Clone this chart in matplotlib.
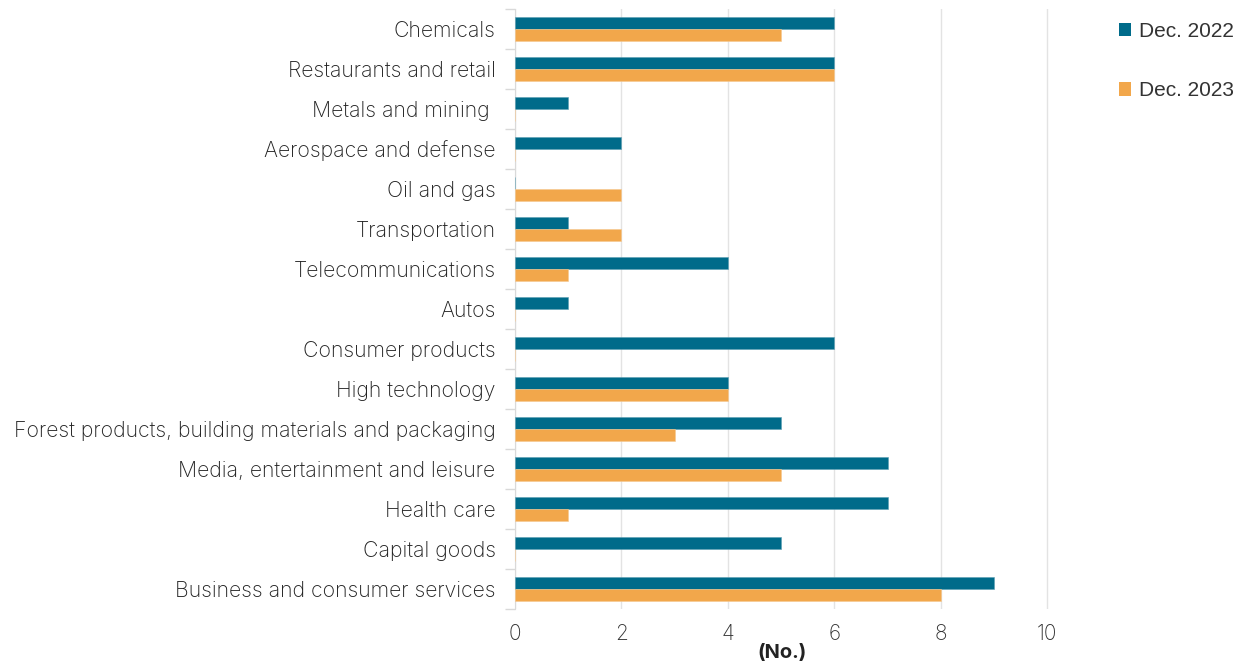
import numpy as np
import matplotlib.pyplot as plt
from matplotlib.patches import Patch

plt.rcParams['font.family'] = ['Inter', 'DejaVu Sans']

# 行业分类（从上到下）
sectors = [
    "Chemicals",
    "Restaurants and retail",
    "Metals and mining ",
    "Aerospace and defense",
    "Oil and gas",
    "Transportation",
    "Telecommunications",
    "Autos",
    "Consumer products",
    "High technology",
    "Forest products, building materials and packaging",
    "Media, entertainment and leisure",
    "Health care",
    "Capital goods",
    "Business and consumer services",
]
dec_2022 = [6, 6, 1, 2, 0, 1, 4, 1, 6, 4, 5, 7, 7, 5, 9]
dec_2023 = [5, 6, 0, 0, 2, 2, 1, 0, 0, 4, 3, 5, 1, 0, 8]
x_ticks = [0, 2, 4, 6, 8, 10]

c22 = "#006b8a"
c23 = "#f2a74b"

fig = plt.figure(figsize=(12.35, 6.67), dpi=100)
ax = fig.add_axes([515 / 1235, 58 / 667, 535 / 1235, 600 / 667])

n = len(sectors)
y = np.arange(n)[::-1].astype(float)
h = 0.31
ax.barh(y + h / 2, dec_2022, height=h, color=c22, edgecolor="#5c9fb3", linewidth=0.4, zorder=3)
ax.barh(y - h / 2, dec_2023, height=h, color=c23, edgecolor="#f6c890", linewidth=0.4, zorder=3)

ax.set_xlim(0, 10.05)
ax.set_ylim(-0.5, n - 0.5)
ax.set_xticks(x_ticks)
ax.set_xticklabels([str(t) for t in x_ticks], fontsize=15, fontweight='light', color="#333333")
ax.tick_params(axis='x', length=0, pad=11)

# 类别标签放在中心，刻度线放在分隔处
ax.set_yticks(y)
ax.set_yticklabels(sectors, fontsize=15.3, fontweight='light', color="#222222")
ax.tick_params(axis='y', which='major', length=0, pad=14)
ax.set_yticks(np.arange(n + 1) - 0.5, minor=True)
ax.tick_params(axis='y', which='minor', length=7, color="#d9d9d9", width=1)

ax.grid(axis='x', color="#e3e3e3", linewidth=1, zorder=0)
for s in ['top', 'right', 'bottom']:
    ax.spines[s].set_visible(False)
ax.spines['left'].set_color("#d9d9d9")

fig.text(782 / 1235, 1 - 653 / 667, "(No.)", fontsize=14.5, fontweight='bold',
         ha='center', va='center', color="#222222")

handles = [Patch(facecolor=c22), Patch(facecolor=c23)]
fig.legend(handles, ["Dec. 2022", "Dec. 2023"], loc='upper left',
           bbox_to_anchor=(1100 / 1235, 1 - 3 / 667), frameon=False,
           prop={'family': 'Liberation Sans', 'size': 15},
           handlelength=0.6, handleheight=0.6, handletextpad=0.35,
           labelspacing=1.95, labelcolor="#333333")

fig.savefig("out.png", dpi=100)
